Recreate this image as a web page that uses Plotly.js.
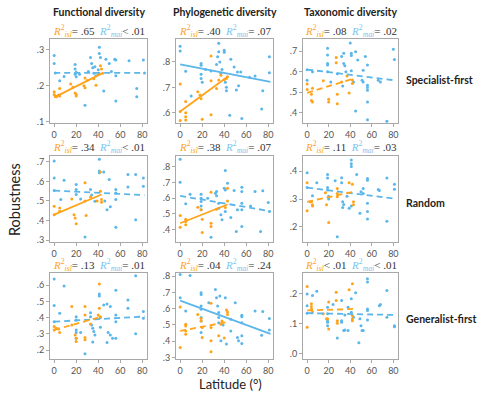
<!DOCTYPE html>
<html><head><meta charset="utf-8">
<script src="https://cdn.plot.ly/plotly-3.0.1.min.js"></script>
<style>html,body{margin:0;padding:0;background:#fff}#chart{width:500px;height:397px}</style>
</head><body><div id="chart"></div>
<script>
// ---- Data (latitude, robustness) ----
const colTitles = ["Functional diversity", "Phylogenetic diversity", "Taxonomic diversity"];
const rowTitles = ["Specialist-first", "Random", "Generalist-first"];

const fdSpecMai = [[0,.284],[0,.262],[1,.236],[5,.214],[9,.226],[19,.259],[19,.247],[19,.232],[20,.238],[20,.225],[23,.232],[28,.146],[31,.24],[33,.279],[34,.262],[35,.25],[36,.235],[37,.253],[38,.228],[40,.245],[41,.307],[41,.29],[42,.279],[45,.186],[47,.274],[50,.262],[52,.24],[55,.274],[56,.272],[56,.158],[56,.228],[68,.27],[75,.193],[75,.17],[81,.272],[82,.236]];
const fdSpecIsl = [[0,.184],[0,.176],[1,.172],[2,.170],[4,.175],[5,.172],[5,.193],[15,.205],[17,.196],[19,.180],[20,.172],[20,.176],[27,.2],[28,.195],[28,.222],[30,.215],[36,.22],[38,.202],[40,.233],[42,.256],[43,.247],[44,.235]];
const pdSpecMai = [[0,.862],[0,.843],[5,.763],[10,.666],[19,.794],[19,.787],[19,.752],[19,.735],[20,.72],[23,.77],[28,.764],[33,.79],[34,.82],[35,.873],[35,.84],[36,.8],[37,.755],[38,.77],[40,.846],[40,.838],[41,.72],[42,.7],[42,.687],[45,.59],[46,.81],[49,.78],[51,.69],[52,.76],[53,.706],[55,.76],[56,.578],[63,.74],[68,.745],[74,.615],[75,.687],[81,.82],[81,.757]];
const pdSpecIsl = [[0,.713],[0,.605],[0,.57],[5,.644],[5,.6],[5,.585],[5,.572],[16,.683],[18,.67],[19,.655],[20,.575],[28,.823],[28,.726],[28,.592],[33,.696],[35,.729],[37,.748],[40,.73],[42,.735],[43,.742]];
const tdSpecMai = [[0,.559],[0,.61],[5,.6],[19,.715],[19,.682],[19,.641],[19,.633],[19,.6],[22,.55],[28,.59],[32,.674],[34,.69],[34,.64],[35,.63],[36,.6],[33,.53],[40,.74],[41,.69],[41,.68],[41,.605],[43,.55],[45,.698],[47,.657],[45,.408],[52,.608],[51,.559],[52,.55],[54,.674],[56,.633],[56,.534],[56,.523],[56,.51],[56,.452],[56,.366],[66,.559],[68,.55],[74,.359],[80,.71],[81,.66]];
const tdSpecIsl = [[0,.54],[0,.513],[4,.46],[5,.452],[5,.52],[4,.49],[15,.556],[20,.466],[20,.452],[27,.67],[27,.644],[28,.49],[28,.444],[32,.55],[37,.58],[39,.497],[42,.543],[42,.56]];
const fdRandMai = [[0,.704],[0,.618],[0,.553],[6,.507],[9,.606],[20,.584],[20,.558],[20,.533],[24,.51],[28,.315],[33,.558],[34,.53],[37,.498],[41,.713],[41,.653],[41,.644],[45,.648],[46,.5],[48,.455],[50,.61],[51,.47],[56,.558],[56,.541],[56,.507],[56,.366],[67,.635],[67,.572],[74,.635],[74,.404],[81,.618],[81,.575]];
const fdRandIsl = [[0,.473],[0,.43],[5,.464],[5,.447],[16,.51],[18,.43],[19,.413],[20,.383],[28,.593],[28,.5],[29,.425],[33,.52],[39,.5],[42,.648],[42,.55],[43,.507],[43,.493]];
const pdRandMai = [[0,.849],[0,.702],[5,.564],[9,.626],[19,.626],[19,.6],[19,.579],[19,.551],[19,.526],[25,.6],[28,.351],[32,.632],[33,.643],[33,.615],[35,.568],[35,.536],[37,.494],[38,.462],[41,.777],[40,.664],[41,.653],[41,.515],[43,.696],[46,.477],[49,.649],[51,.387],[52,.526],[56,.67],[56,.643],[56,.568],[56,.526],[56,.419],[64,.55],[68,.643],[73,.387],[75,.647],[80,.572],[81,.515]];
const pdRandIsl = [[0,.489],[0,.415],[5,.466],[5,.451],[5,.43],[16,.543],[19,.526],[20,.466],[20,.381],[28,.638],[28,.44],[28,.419],[33,.53],[41,.54],[43,.664],[43,.583]];
const tdRandMai = [[0,.394],[0,.341],[5,.312],[9,.358],[19,.388],[19,.375],[19,.341],[19,.332],[20,.31],[20,.3],[26,.365],[28,.165],[32,.376],[32,.358],[33,.29],[34,.28],[33,.27],[37,.31],[39,.267],[41,.44],[41,.426],[41,.416],[41,.275],[46,.388],[49,.249],[50,.326],[52,.338],[52,.32],[56,.373],[56,.367],[56,.285],[56,.255],[56,.228],[66,.334],[67,.33],[74,.375],[74,.22],[81,.353],[81,.335]];
const tdRandIsl = [[0,.358],[0,.258],[3,.29],[4,.29],[5,.279],[5,.275],[17,.322],[18,.279],[20,.216],[28,.338],[28,.32],[28,.308],[39,.358],[42,.353],[43,.29],[43,.279]];
const fdGenMai = [[0,.638],[0,.474],[0,.375],[5,.427],[9,.595],[20,.406],[20,.386],[20,.324],[20,.308],[20,.273],[24,.308],[28,.177],[33,.43],[33,.406],[34,.355],[35,.334],[36,.314],[37,.293],[35,.25],[41,.545],[41,.533],[42,.4],[42,.34],[45,.478],[48,.484],[48,.246],[51,.468],[49,.308],[51,.293],[53,.273],[56,.568],[56,.416],[56,.375],[56,.273],[67,.457],[67,.509],[74,.658],[74,.3],[81,.437],[81,.396]];
const fdGenIsl = [[0,.345],[0,.324],[2,.335],[4,.33],[5,.308],[16,.468],[16,.355],[19,.293],[20,.273],[20,.253],[28,.468],[28,.416],[28,.277],[28,.263],[33,.36],[41,.607],[41,.457],[40,.416],[42,.406]];
const pdGenMai = [[0,.81],[0,.667],[5,.586],[9,.804],[19,.698],[19,.688],[19,.616],[19,.596],[19,.545],[19,.524],[19,.453],[26,.637],[32,.718],[33,.667],[34,.616],[35,.576],[35,.545],[35,.514],[36,.678],[37,.402],[39,.5],[41,.667],[42,.382],[46,.535],[46,.463],[50,.637],[52,.422],[53,.402],[56,.559],[56,.551],[56,.514],[56,.433],[56,.386],[68,.586],[75,.582],[74,.437],[81,.539],[81,.469]];
const pdGenIsl = [[0,.61],[0,.361],[5,.504],[5,.494],[5,.463],[5,.443],[16,.565],[19,.539],[19,.524],[20,.484],[20,.422],[28,.633],[28,.484],[28,.402],[28,.335],[35,.433],[37,.504],[38,.524],[42,.592],[43,.58],[43,.565],[40,.42]];
const tdGenMai = [[0,.2],[0,.161],[0,.136],[5,.195],[9,.209],[19,.156],[19,.134],[19,.111],[19,.106],[19,.094],[24,.165],[28,.053],[32,.178],[32,.111],[32,.106],[34,.078],[35,.08],[35,.13],[38,.156],[38,.078],[41,.184],[41,.139],[43,.122],[45,.204],[48,.037],[49,.117],[51,.078],[52,.078],[50,.094],[56,.251],[56,.24],[56,.15],[56,.145],[56,.113],[67,.161],[68,.165],[74,.212],[74,.122],[81,.094],[81,.091]];
const tdGenIsl = [[0,.225],[0,.089],[4,.167],[4,.158],[4,.15],[5,.14],[15,.134],[18,.117],[19,.117],[20,.173],[20,.083],[27,.206],[27,.178],[28,.111],[28,.102],[39,.214],[42,.234],[42,.128],[42,.117],[42,.111]];

// fitted lines: [lat0, y0, lat1, y1]
const islFits = [[0,.168,43,.234],[0,.605,43,.742],[0,.497,43,.567],[0,.43,43,.533],[0,.44,43,.56],[0,.29,43,.326],[0,.324,43,.406],[0,.463,43,.518],[0,.145,43,.15]];
const maiFits = [[0,.236,82,.236],[0,.79,82,.722],[0,.611,82,.558],[0,.553,82,.53],[0,.615,82,.517],[0,.341,82,.301],[0,.375,82,.407],[0,.65,82,.445],[0,.136,82,.13]];
const islSig = [true,true,false,true,true,false,false,false,false];
const maiSig = [false,true,false,false,false,false,false,true,false];
const islR2 = ["= .65","= .40","= .08","= .34","= .38","= .11","= .13","= .04","< .01"];
const maiR2 = ["< .01","= .07","= .02","< .01","= .07","= .03","= .01","= .24","< .01"];
const yTicks = [[.1,.2,.3],[.6,.7,.8],[.4,.5,.6,.7],[.3,.4,.5,.6,.7],[.4,.5,.6,.7,.8],[.2,.3,.4],[.2,.3,.4,.5,.6],[.3,.4,.5,.6,.7,.8],[0,.1,.2]];
const yRanges = [[.097,.33],[.56,.89],[.35,.76],[.29,.73],[.32,.87],[.146,.454],[.145,.675],[.29,.82],[-.017,.27]];
const xTicks = [0,20,40,60,80];

const maiSets = [fdSpecMai,pdSpecMai,tdSpecMai,fdRandMai,pdRandMai,tdRandMai,fdGenMai,pdGenMai,tdGenMai];
const islSets = [fdSpecIsl,pdSpecIsl,tdSpecIsl,fdRandIsl,pdRandIsl,tdRandIsl,fdGenIsl,pdGenIsl,tdGenIsl];

// ---- Layout geometry (px) ----
const W = 500, H = 397;
const colPx = [[50,147],[176,273],[303,398]];
const rowPx = [[39,123],[156,242],[273,359]];
const ORANGE = "#FFA31A", BLUE = "#5BB6EA";

const traces = [];
const layout = {
  width: W, height: H, margin: {l:0,r:0,t:0,b:0},
  paper_bgcolor: "#fff", plot_bgcolor: "#fff", showlegend: false,
  font: {family: "Lato, 'Noto Sans', sans-serif", color: "#222"},
  annotations: []
};
const px2x = p => p / W, py2y = p => 1 - p / H;

for (let i = 0; i < 9; i++) {
  const r = Math.floor(i / 3), c = i % 3;
  const k = i === 0 ? "" : String(i + 1);
  const xa = "x" + k, ya = "y" + k;
  const ax = {
    domain: [px2x(colPx[c][0]), px2x(colPx[c][1])], anchor: ya,
    range: [-3.8, 84.3], tickvals: xTicks, ticktext: xTicks.map(String),
    showgrid: false, zeroline: false, showline: true, mirror: true,
    linecolor: "#a8a8a8", linewidth: 1, ticks: "outside", ticklen: 3, tickcolor: "#a8a8a8",
    tickfont: {size: 9, color: "#555"}
  };
  const ay = {
    domain: [py2y(rowPx[r][1]), py2y(rowPx[r][0])], anchor: xa,
    range: yRanges[i], tickvals: yTicks[i],
    ticktext: yTicks[i].map(v => v.toFixed(1).replace(/^0/, "")),
    showgrid: false, zeroline: false, showline: true, mirror: true,
    linecolor: "#a8a8a8", linewidth: 1, ticks: "outside", ticklen: 3, tickcolor: "#a8a8a8",
    tickfont: {size: 9, color: "#555"}
  };
  layout["xaxis" + k] = ax;
  layout["yaxis" + k] = ay;

  traces.push({type: "scatter", mode: "markers", xaxis: xa, yaxis: ya,
    x: maiSets[i].map(p => p[0]), y: maiSets[i].map(p => p[1]),
    marker: {size: 3, color: BLUE}});
  traces.push({type: "scatter", mode: "markers", xaxis: xa, yaxis: ya,
    x: islSets[i].map(p => p[0]), y: islSets[i].map(p => p[1]),
    marker: {size: 3, color: ORANGE}});
  const mf = maiFits[i], f = islFits[i];
  traces.push({type: "scatter", mode: "lines", xaxis: xa, yaxis: ya,
    x: [mf[0], mf[2]], y: [mf[1], mf[3]],
    line: {color: BLUE, width: 1.8, dash: maiSig[i] ? "solid" : "6px,4px"}});
  traces.push({type: "scatter", mode: "lines", xaxis: xa, yaxis: ya,
    x: [f[0], f[2]], y: [f[1], f[3]],
    line: {color: ORANGE, width: 1.8, dash: islSig[i] ? "solid" : "6px,4px"}});

  const r2y = [31, 147, 265][r];
  layout.annotations.push({
    xref: "paper", yref: "paper", x: px2x((colPx[c][0] + colPx[c][1]) / 2), y: py2y(r2y),
    xanchor: "center", yanchor: "middle", showarrow: false,
    font: {family: "'Liberation Serif', 'DejaVu Serif', serif", size: 11},
    text: `<span style="color:${ORANGE}"><i>R</i><sup>2</sup><sub><i>isl</i></sub></span><span style="color:#333">${islR2[i]}</span>  ` +
          `<span style="color:#7cc4ee"><i>R</i><sup>2</sup><sub><i>mai</i></sub></span><span style="color:#333">${maiR2[i]}</span>`
  });
}

// column titles
colTitles.forEach((t, c) => layout.annotations.push({
  xref: "paper", yref: "paper", x: px2x((colPx[c][0] + colPx[c][1]) / 2), y: py2y(12),
  xanchor: "center", yanchor: "middle", showarrow: false,
  text: "<b>" + t + "</b>", font: {size: 10.5, color: "#222"}
}));
// row titles
const rowY = [80, 203, 319];
rowTitles.forEach((t, r) => layout.annotations.push({
  xref: "paper", yref: "paper", x: px2x(404), y: py2y(rowY[r]),
  xanchor: "left", yanchor: "middle", showarrow: false,
  text: "<b>" + t + "</b>", font: {size: 10.5, color: "#222"}
}));
layout.annotations.push({
  xref: "paper", yref: "paper", x: px2x(14), y: py2y(200), textangle: -90,
  xanchor: "center", yanchor: "middle", showarrow: false,
  text: "Robustness", font: {size: 14.5, color: "#222"}
});
layout.annotations.push({
  xref: "paper", yref: "paper", x: px2x(230), y: py2y(384),
  xanchor: "center", yanchor: "middle", showarrow: false,
  text: "Latitude (°)", font: {size: 13, color: "#222"}
});

Plotly.newPlot("chart", traces, layout, {staticPlot: true, displayModeBar: false});
</script></body></html>
